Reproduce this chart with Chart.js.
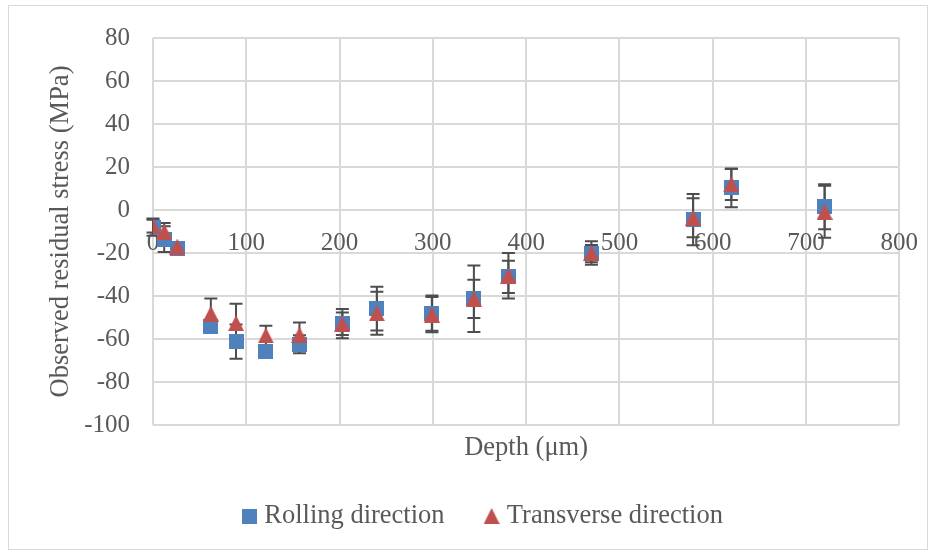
<!DOCTYPE html>
<html>
<head>
<meta charset="utf-8">
<script src="https://cdn.jsdelivr.net/npm/chart.js@4.4.1/dist/chart.umd.min.js"></script>
<style>
  html, body { margin: 0; padding: 0; background: #fff; }
</style>
</head>
<body>
<canvas id="chart" width="936" height="556"></canvas>
<script>
// Profundidade (µm) de cada medida
const depth = [0, 12, 26, 62, 89, 121, 157, 203, 240, 299, 344, 381, 470, 579, 620, 720];

// Tensão residual (MPa) e desvio de cada direção
const rolling = [-8, -13.5, -17.7, -54, -61.2, -66, -62.4, -52.9, -45.9, -48, -41.3, -31.1, -20.3, -4.5, 10.3, 1.5];
const rollingErr = [4, 6, 2, 3, 8, 2, 4.2, 6.8, 10.2, 8.2, 8.9, 7.5, 4, 11.9, 9, 10.5];
const transverse = [-7.5, -10, -17, -48.2, -52.6, -58.3, -58, -52.9, -48, -48.7, -41.3, -30.6, -20, -3.6, 11.9, -0.8];
const transverseErr = [3, 4, 2, 7, 9, 4.5, 5.7, 5.2, 10, 8.2, 15.5, 10.6, 5.5, 9.1, 7.2, 12.1];

// Limites e passo dos eixos
const xRange = [0, 800, 100];
const yRange = [-100, 80, 20];

const FONT = "'Liberation Serif', 'Times New Roman', serif";
const TEXT = '#595959';
const GRID = '#d9d9d9';

/**
 * Cria um marcador (quadrado ou triângulo) num canvas pequeno
 */
function makeMarker(shape, size, color) {
  const c = document.createElement('canvas');
  c.width = size;
  c.height = size;
  const g = c.getContext('2d');
  g.fillStyle = color;
  if (shape === 'square') {
    g.fillRect(0, 0, size, size);
  } else {
    g.beginPath();
    g.moveTo(size / 2, 0);
    g.lineTo(size, size);
    g.lineTo(0, size);
    g.closePath();
    g.fill();
  }
  return c;
}

const squareMarker = makeMarker('square', 15, '#4F81BD');
const triangleMarker = makeMarker('triangle', 16, '#C0504D');

// Barras de erro desenhadas por baixo dos marcadores
const errorBars = {
  id: 'errorBars',
  beforeDatasetsDraw(chart) {
    const { ctx } = chart;
    const y = chart.scales.y;
    ctx.save();
    ctx.strokeStyle = '#4d4d4d';
    ctx.lineWidth = 2;
    chart.data.datasets.forEach((ds, i) => {
      chart.getDatasetMeta(i).data.forEach((pt, j) => {
        const v = ds.data[j].y;
        const e = ds.errors[j];
        const top = y.getPixelForValue(v + e);
        const bot = y.getPixelForValue(v - e);
        const x = pt.x;
        ctx.beginPath();
        ctx.moveTo(x, top); ctx.lineTo(x, bot);
        ctx.moveTo(x - 6.5, top); ctx.lineTo(x + 6.5, top);
        ctx.moveTo(x - 6.5, bot); ctx.lineTo(x + 6.5, bot);
        ctx.stroke();
      });
    });
    ctx.restore();
  }
};

// Moldura cinza em volta do gráfico
const frame = {
  id: 'frame',
  beforeDraw(chart) {
    const { ctx } = chart;
    ctx.save();
    ctx.fillStyle = '#fff';
    ctx.fillRect(0, 0, chart.width, chart.height);
    ctx.strokeStyle = GRID;
    ctx.lineWidth = 1;
    ctx.strokeRect(8.5, 5.5, 919, 544);
    ctx.restore();
  }
};

const toPoints = (ys) => depth.map((d, i) => ({ x: d, y: ys[i] }));

new Chart(document.getElementById('chart'), {
  type: 'scatter',
  data: {
    datasets: [
      {
        label: 'Rolling direction',
        data: toPoints(rolling),
        errors: rollingErr,
        pointStyle: squareMarker,
        pointRadius: 8,
        backgroundColor: '#4F81BD',
        borderColor: '#4F81BD',
        order: 1
      },
      {
        label: 'Transverse direction',
        data: toPoints(transverse),
        errors: transverseErr,
        pointStyle: triangleMarker,
        pointRadius: 8,
        backgroundColor: '#C0504D',
        borderColor: '#C0504D',
        order: 0
      }
    ]
  },
  options: {
    responsive: false,
    animation: false,
    devicePixelRatio: 1,
    layout: { padding: { left: 70, right: 36, top: 36, bottom: 16.75 } },
    plugins: {
      tooltip: { enabled: false },
      legend: {
        position: 'bottom',
        labels: {
          usePointStyle: true,
          boxWidth: 4,
          padding: 45,
          color: TEXT,
          font: { family: FONT, size: 26.5 },
          sort: (a, b) => a.datasetIndex - b.datasetIndex
        }
      }
    },
    scales: {
      x: {
        type: 'linear',
        position: 'bottom',
        min: xRange[0],
        max: xRange[1],
        ticks: { display: false, stepSize: xRange[2] },
        grid: { color: GRID, lineWidth: 2, drawTicks: false },
        border: { display: false },
        title: {
          display: true,
          text: 'Depth (μm)',
          color: TEXT,
          font: { family: FONT, size: 26.5 },
          padding: { top: 0, bottom: -6.5 }
        },
        afterFit(s) { s.height = 32.75; }
      },
      // eixo de rótulos cruzando em y = 0
      x2: {
        type: 'linear',
        axis: 'x',
        position: { y: 0 },
        min: xRange[0],
        max: xRange[1],
        ticks: { stepSize: xRange[2], padding: 18, color: TEXT, font: { family: FONT, size: 25 } },
        grid: { display: false, drawTicks: false },
        border: { display: true, color: GRID, width: 2 }
      },
      y: {
        type: 'linear',
        min: yRange[0],
        max: yRange[1],
        ticks: { stepSize: yRange[2], padding: 23, color: TEXT, font: { family: FONT, size: 25 } },
        grid: { color: GRID, lineWidth: 2, drawTicks: false },
        border: { display: false },
        title: {
          display: true,
          text: 'Observed residual stress (MPa)',
          color: TEXT,
          font: { family: FONT, size: 26.5 },
          padding: { top: -25, bottom: 0 }
        },
        afterFit(s) { s.width = 83; }
      }
    }
  },
  plugins: [frame, errorBars]
});
</script>
</body>
</html>
